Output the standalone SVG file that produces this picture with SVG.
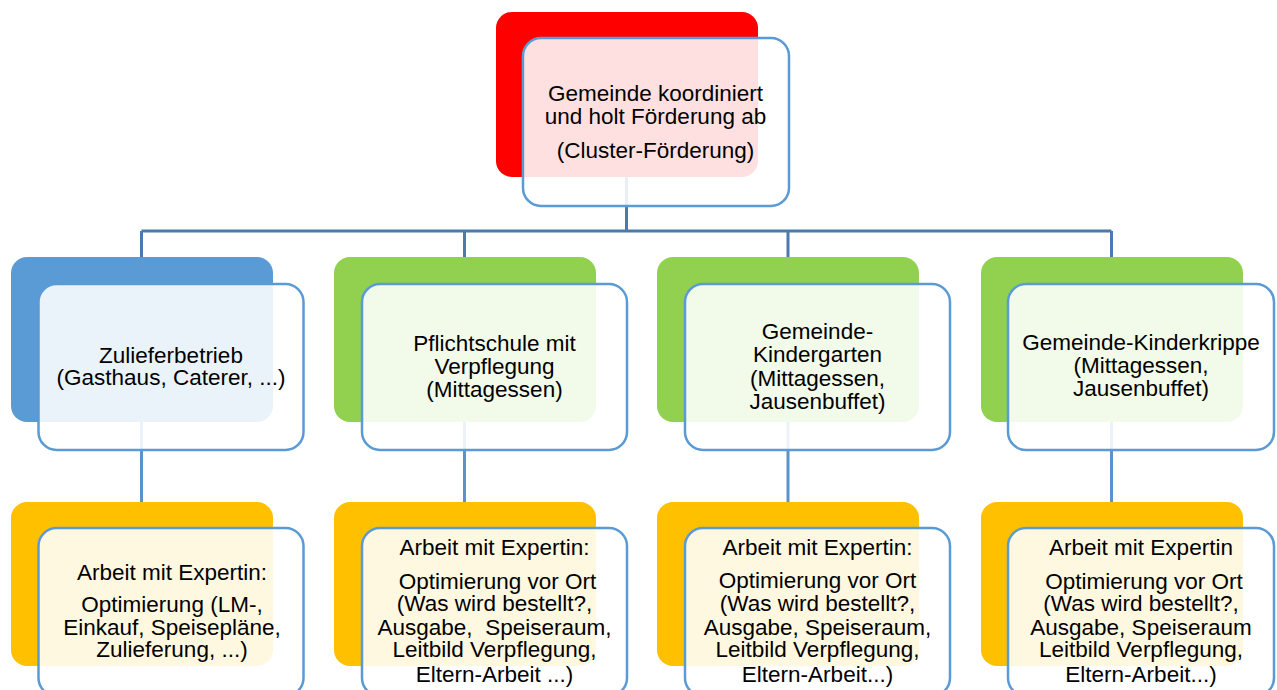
<svg xmlns="http://www.w3.org/2000/svg" width="1277" height="690" viewBox="0 0 1277 690">
<style>
.bg{stroke:none}
.red{fill:#ff0000}
.blue{fill:#5b9bd5}
.green{fill:#92d050}
.orange{fill:#ffc000}
.front{fill:#ffffff;fill-opacity:0.88;stroke:#5b9bd5;stroke-width:2.5}
.c1{stroke:#4a7aae;stroke-width:3;fill:none}
.c2{stroke:#5a93cc;stroke-width:3;fill:none}
text{font-family:"Liberation Sans",Arial,sans-serif;font-size:22.5px;fill:#000;text-anchor:middle}
</style>
<rect width="1277" height="690" fill="#ffffff"/>
<g id="connectors">
<path class="c1" d="M626.5 177V231M141.5 231H1111.5M141.5 231V257M464.5 231V257M788 231V257M1111.5 231V257"/>
<path class="c2" d="M141.5 421V502M464.5 421V502M788 421V502M1111.5 421V502"/>
</g>
<g id="top">
<rect class="red" x="496" y="12" width="262" height="165" rx="16"/>
<rect class="front" x="523" y="38" width="266" height="168" rx="18"/>
<text x="655.5" y="101">Gemeinde koordiniert</text>
<text x="655.5" y="124">und holt Förderung ab</text>
<text x="655.5" y="158">(Cluster-Förderung)</text>
</g>
<g id="zulieferbetrieb">
<rect class="blue" x="11" y="257" width="262" height="165" rx="16"/>
<rect class="front" x="38.5" y="284" width="265" height="166" rx="18"/>
<text x="171" y="363">Zulieferbetrieb</text>
<text x="171" y="385">(Gasthaus, Caterer, ...)</text>
</g>
<g id="pflichtschule">
<rect class="green" x="334" y="257" width="262" height="165" rx="16"/>
<rect class="front" x="362" y="284" width="265" height="166" rx="18"/>
<text x="494.5" y="351">Pflichtschule mit</text>
<text x="494.5" y="374">Verpflegung</text>
<text x="494.5" y="397">(Mittagessen)</text>
</g>
<g id="kindergarten">
<rect class="green" x="657" y="257" width="262" height="165" rx="16"/>
<rect class="front" x="685" y="284" width="265" height="166" rx="18"/>
<text x="817.5" y="339">Gemeinde-</text>
<text x="817.5" y="362">Kindergarten</text>
<text x="817.5" y="386">(Mittagessen,</text>
<text x="817.5" y="409">Jausenbuffet)</text>
</g>
<g id="kinderkrippe">
<rect class="green" x="981" y="257" width="262" height="165" rx="16"/>
<rect class="front" x="1008" y="284" width="266" height="166" rx="18"/>
<text x="1141" y="350">Gemeinde-Kinderkrippe</text>
<text x="1141" y="373">(Mittagessen,</text>
<text x="1141" y="396">Jausenbuffet)</text>
</g>
<g id="expertin1">
<rect class="orange" x="11" y="502" width="262" height="164" rx="16"/>
<rect class="front" x="38.5" y="528" width="265" height="168" rx="18"/>
<text x="172" y="580">Arbeit mit Expertin:</text>
<text x="172" y="612">Optimierung (LM-,</text>
<text x="172" y="635">Einkauf, Speisepläne,</text>
<text x="172" y="657">Zulieferung, ...)</text>
</g>
<g id="expertin2">
<rect class="orange" x="334" y="502" width="262" height="164" rx="16"/>
<rect class="front" x="362" y="528" width="265" height="168" rx="18"/>
<text x="494.5" y="555">Arbeit mit Expertin:</text>
<text x="497.5" y="589">Optimierung vor Ort</text>
<text x="494.5" y="611">(Was wird bestellt?,</text>
<text x="494.5" y="635" xml:space="preserve">Ausgabe,  Speiseraum,</text>
<text x="494.5" y="657">Leitbild Verpflegung,</text>
<text x="494.5" y="682">Eltern-Arbeit ...)</text>
</g>
<g id="expertin3">
<rect class="orange" x="657" y="502" width="262" height="164" rx="16"/>
<rect class="front" x="685" y="528" width="265" height="168" rx="18"/>
<text x="817.5" y="555">Arbeit mit Expertin:</text>
<text x="817.5" y="588">Optimierung vor Ort</text>
<text x="817.5" y="611">(Was wird bestellt?,</text>
<text x="817.5" y="635">Ausgabe, Speiseraum,</text>
<text x="817.5" y="657">Leitbild Verpflegung,</text>
<text x="817.5" y="682">Eltern-Arbeit...)</text>
</g>
<g id="expertin4">
<rect class="orange" x="981" y="502" width="262" height="164" rx="16"/>
<rect class="front" x="1008" y="528" width="266" height="168" rx="18"/>
<text x="1141" y="555">Arbeit mit Expertin</text>
<text x="1144" y="589">Optimierung vor Ort</text>
<text x="1141" y="611">(Was wird bestellt?,</text>
<text x="1141" y="635">Ausgabe, Speiseraum</text>
<text x="1141" y="657">Leitbild Verpflegung,</text>
<text x="1141" y="682">Eltern-Arbeit...)</text>
</g>
</svg>
